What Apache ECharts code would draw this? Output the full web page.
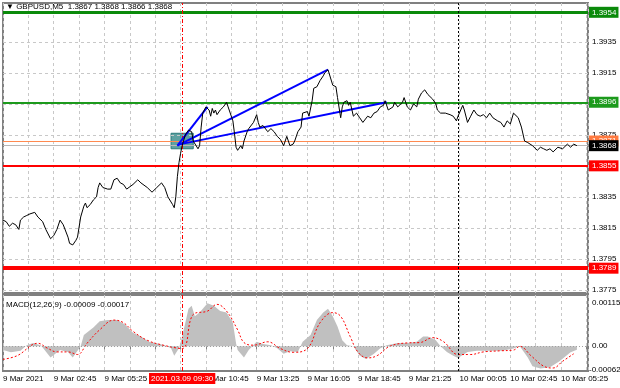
<!DOCTYPE html>
<html><head><meta charset="utf-8">
<script src="https://cdn.jsdelivr.net/npm/echarts@6/dist/echarts.min.js"></script>
<style>html,body{margin:0;padding:0;background:#fff}#c{width:620px;height:388px}</style>
</head><body><div id="c"></div>
<script>
// M5 bar index counted from 9 Mar 2021 00:05
const priceBars = [0,2,4,6,8,10,11,13,15,17,20,22,25,27,30,32,34,36,38,41,42,44,46,47,49,51,52,53,55,57,59,60,61,63,66,68,70,72,74,76,78,79,82,85,87,88,91,94,97,100,102,104,107,108,109,110,111,112,113,115,117,119,120,123,124,125,126,127,128,130,131,132,133,134,135,137,139,141,142,143,145,146,147,148,150,151,152,154,155,156,158,160,161,162,164,167,169,171,173,175,177,178,179,181,183,184,186,188,189,192,193,195,196,198,200,202,203,205,208,210,211,213,214,215,217,218,219,221,223,225,227,230,232,234,236,238,240,241,243,246,247,249,252,253,255,257,259,261,262,264,266,268,271,273,274,276,279,282,284,286,287,290,291,293,295,297,299,301,303,305,307,309,312,314,316,318,320,322,323,325,327,329,331,332,334,337,339,341,343,345,347,350,351,353,356,358,360,362];
const priceVals = [1.3820,1.3819,1.3816,1.3818,1.3817,1.3814,1.3820,1.3822,1.3823,1.3824,1.3825,1.3822,1.3819,1.3814,1.3808,1.3810,1.3814,1.3820,1.3817,1.3809,1.3805,1.3804,1.3807,1.3809,1.3822,1.3829,1.3831,1.3828,1.3830,1.3833,1.3835,1.3841,1.3844,1.3841,1.3840,1.3840,1.3846,1.3847,1.3844,1.3843,1.3840,1.3841,1.3843,1.3846,1.3844,1.3845,1.3841,1.3838,1.3841,1.3844,1.3841,1.3835,1.3830,1.3828,1.3835,1.3848,1.3857,1.3863,1.3868,1.3875,1.3878,1.3877,1.3871,1.3866,1.3868,1.3880,1.3889,1.3891,1.3893,1.3891,1.3887,1.3892,1.3889,1.3891,1.3888,1.3891,1.3893,1.3896,1.3893,1.3892,1.3884,1.3876,1.3867,1.3865,1.3868,1.3866,1.3871,1.3877,1.3879,1.3878,1.3883,1.3888,1.3883,1.3880,1.3881,1.3877,1.3879,1.3877,1.3874,1.3872,1.3868,1.3871,1.3874,1.3868,1.3869,1.3871,1.3877,1.3880,1.3889,1.3890,1.3887,1.3897,1.3905,1.3906,1.3910,1.3913,1.3915,1.3917,1.3907,1.3906,1.3899,1.3886,1.3893,1.3896,1.3897,1.3894,1.3896,1.3887,1.3889,1.3886,1.3883,1.3887,1.3886,1.3889,1.3890,1.3893,1.3894,1.3897,1.3891,1.3893,1.3896,1.3893,1.3896,1.3899,1.3893,1.3891,1.3895,1.3893,1.3898,1.3902,1.3904,1.3901,1.3898,1.3895,1.3891,1.3889,1.3889,1.3888,1.3887,1.3884,1.3887,1.3894,1.3891,1.3883,1.3887,1.3891,1.3888,1.3887,1.3888,1.3886,1.3889,1.3886,1.3884,1.3883,1.3880,1.3884,1.3882,1.3889,1.3890,1.3886,1.3880,1.3871,1.3870,1.3869,1.3868,1.3865,1.3867,1.3866,1.3865,1.3866,1.3864,1.3867,1.3868,1.3866,1.3869,1.3867,1.3869,1.3868];

const macdBars = [0,5,11,15,19,24,30,33,36,41,44,49,51,57,61,66,72,77,82,87,92,97,102,106,108,111,113,115,117,119,121,124,129,133,137,141,145,147,148,152,155,160,164,169,173,177,181,186,189,194,198,202,205,208,211,214,217,221,225,229,234,238,242,249,255,261,265,268,273,276,280,284,287,293,299,307,315,322,326,331,334,339,345,351,358,362];
const macdVals = [-0.00010,-0.00016,-0.00012,0.00003,0.00009,0.00002,-0.00030,-0.00020,-0.00010,-0.00015,-0.00030,0.00000,0.00030,0.00050,0.00067,0.00070,0.00070,0.00058,0.00036,0.00026,0.00012,0.00008,0.00003,-0.00005,-0.00025,-0.00005,0.00026,0.00063,0.00100,0.00108,0.00080,0.00090,0.00115,0.00108,0.00094,0.00090,0.00063,0.00008,-0.00010,-0.00030,-0.00010,0.00012,0.00006,0.00003,-0.00005,-0.00020,-0.00013,-0.00015,0.00012,0.00030,0.00070,0.00090,0.00100,0.00080,0.00053,0.00016,0.00003,0.00000,-0.00025,-0.00034,-0.00020,-0.00005,0.00003,0.00009,0.00009,0.00012,0.00026,0.00026,0.00016,0.00000,-0.00015,-0.00025,-0.00031,-0.00015,-0.00012,-0.00012,-0.00012,-0.00006,0.00000,-0.00030,-0.00053,-0.00059,-0.00056,-0.00040,-0.00016,-0.00009];
const signalBars = [0,9,22,28,34,41,47,53,61,70,76,82,91,101,113,120,129,135,141,148,152,158,167,175,183,192,200,208,213,219,224,230,236,244,255,263,271,278,287,295,303,314,322,326,333,341,347,353,360];
const signalVals = [-0.00035,-0.00025,0.00008,-0.00005,-0.00015,-0.00015,-0.00022,0.00008,0.00044,0.00070,0.00063,0.00040,0.00016,0.00003,-0.00006,0.00085,0.00094,0.00112,0.00094,0.00044,0.00010,0.00003,0.00012,-0.00006,-0.00016,-0.00006,0.00063,0.00090,0.00080,0.00026,-0.00016,-0.00031,-0.00025,0.00000,0.00009,0.00010,0.00023,0.00012,-0.00022,-0.00022,-0.00015,-0.00012,-0.00010,0.00000,-0.00025,-0.00053,-0.00058,-0.00040,-0.00020];

const priceTicks = [1.3775,1.3795,1.3815,1.3835,1.3855,1.3875,1.3895,1.3915,1.3935,1.3955];
const priceTickLabels = ['1.3775','1.3795','1.3815','1.3835','','1.3875','','1.3915','1.3935',''];
const levelVals = [1.3954,1.3896,1.3871,1.3868,1.3855,1.3789];
const levelLabels = ['1.3954','1.3896','1.3871','1.3868','1.3855','1.3789'];
const macdTicks = [0.00115, 0, -0.00062];
const macdTickLabels = ['0.00115', '0.00', '-0.00062'];
const trendLines = [[[110,1.3868],[129,1.3893]],[[110,1.3868],[205,1.3917]],[[112,1.3869],[242,1.3896]]];
const boxBars = [106,120];
const boxPrices = [1.3876,1.3866];
const markBar = 113;        // 2021.03.09 09:30
const dayBar = 287;         // 10 Mar 00:00
const headerText = 'GBPUSD,M5  1.3867 1.3868 1.3866 1.3868';
const macdText = 'MACD(12,26,9) -0.00009 -0.00017';

const FONT = 'Liberation Sans, Arial, sans-serif';
const zip = (a, b) => a.map((v, i) => [v, b[i]]);

function barLabel(b) {
  if (b === 0) return '9 Mar 2021';
  if (b % 32 !== 0 || b === 96) return '';
  const m = 5 + b * 5, day = 9 + Math.floor(m / 1440), mm = m % 1440;
  return day + ' Mar ' + String(Math.floor(mm / 60)).padStart(2, '0') + ':' + String(mm % 60).padStart(2, '0');
}
const levelStyles = [
  {c: '#0a8a0a', w: 3, bg: '#0a8a0a', fc: '#fff'},
  {c: '#1c9a1c', w: 2, bg: '#1c9a1c', fc: '#fff'},
  {c: '#ff8a50', w: 1, bg: '#ff7a40', fc: '#fff'},
  {c: '#b8b8b8', w: 1, bg: '#000', fc: '#fff'},
  {c: '#ff0000', w: 2, bg: '#ff0000', fc: '#fff'},
  {c: '#ff0000', w: 4, bg: '#ff0000', fc: '#fff'}
];

const chart = echarts.init(document.getElementById('c'), null, {renderer: 'canvas'});
const lbl = {fontFamily: FONT, fontSize: 8};
const option = {
  animation: false,
  backgroundColor: '#fff',
  title: [
    {text: '▼ ' + headerText, left: 6, top: 3, padding: 0, textStyle: {fontFamily: FONT, fontSize: 8, fontWeight: 'normal', color: '#000'}},
    {text: macdText, left: 6, top: 301, padding: 0, textStyle: {fontFamily: FONT, fontSize: 8, fontWeight: 'normal', color: '#000'}}
  ],
  grid: [
    {left: 3, top: 3, width: 585, height: 290, show: true, borderColor: '#808080', borderWidth: 2, backgroundColor: '#fff'},
    {left: 3, top: 295, width: 585, height: 76, show: true, borderColor: '#808080', borderWidth: 2, backgroundColor: '#fff'}
  ],
  xAxis: [
    {type: 'value', gridIndex: 0, min: 0, max: 369, interval: 16,
     axisLine: {show: false}, axisTick: {show: false}, axisLabel: {show: false},
     splitLine: {show: true, lineStyle: {color: '#c8c8c8', type: [3, 3]}}},
    {type: 'value', gridIndex: 1, min: 0, max: 369, interval: 16,
     axisLine: {show: false}, axisTick: {show: true, length: 3, lineStyle: {color: '#808080'}},
     axisLabel: Object.assign({show: true, color: '#000', align: 'left', margin: 4, showMaxLabel: false, formatter: barLabel}, lbl),
     splitLine: {show: true, lineStyle: {color: '#c8c8c8', type: [3, 3]}}}
  ],
  yAxis: [
    {type: 'value', gridIndex: 0, position: 'right', min: 1.3773, max: 1.3960,
     axisLine: {show: false}, axisTick: {show: false}, axisLabel: {show: false}, splitLine: {show: false}},
    {type: 'value', gridIndex: 1, position: 'right', min: -0.00066, max: 0.00137,
     axisLine: {show: false}, axisTick: {show: false}, splitLine: {show: false}, axisLabel: {show: false}}
  ],
  series: [
    {
      type: 'line', xAxisIndex: 0, yAxisIndex: 0, data: zip(priceBars, priceVals),
      showSymbol: false, lineStyle: {color: '#000', width: 1}, z: 5,
      markArea: {silent: true, itemStyle: {color: 'rgba(40,130,130,0.75)', borderColor: '#2a7a7a', borderWidth: 1},
        data: [[{coord: [boxBars[0], boxPrices[0]]}, {coord: [boxBars[1], boxPrices[1]]}]]},
      markLine: {silent: true, symbol: 'none', animation: false, precision: 6,
        data: [].concat(
          priceTicks.map((v, i) => ({yAxis: v, lineStyle: {color: '#c8c8c8', type: [3, 3], width: 1},
            label: Object.assign({show: true, position: 'end', distance: 4, color: '#000', formatter: priceTickLabels[i]}, lbl)})),
          levelVals.map((v, i) => ({yAxis: v, lineStyle: {color: levelStyles[i].c, type: 'solid', width: levelStyles[i].w},
            label: Object.assign({show: true, position: 'end', distance: 1, color: levelStyles[i].fc, backgroundColor: levelStyles[i].bg,
              padding: [2, 2, 1, 3], formatter: levelLabels[i]}, lbl)})),
          [{xAxis: markBar, lineStyle: {color: '#ff0000', type: [4, 2, 1, 2], width: 1}, label: {show: false}},
           {xAxis: dayBar, lineStyle: {color: '#000', type: [2, 2], width: 1}, label: {show: false}}],
          trendLines.map(p => [{coord: p[0], lineStyle: {color: '#0000ff', width: 2, type: 'solid'}, label: {show: false}}, {coord: p[1]}])
        )}
    },
    {
      type: 'line', xAxisIndex: 1, yAxisIndex: 1, data: zip(macdBars, macdVals),
      showSymbol: false, lineStyle: {width: 0, color: '#c0c0c0'}, areaStyle: {color: '#c0c0c0', opacity: 1}, z: 2,
      markLine: {silent: true, symbol: 'none', animation: false, precision: 6,
        data: [].concat(
          macdTicks.map((v, i) => ({yAxis: v,
            lineStyle: v === 0 ? {color: '#a0a0a0', type: [1, 2], width: 1} : {color: 'rgba(0,0,0,0)', width: 0},
            label: Object.assign({show: true, position: 'end', distance: v < 0 ? 1 : 4, color: '#000', formatter: macdTickLabels[i],
              padding: v < 0 ? [0, 0, 6, 0] : 0}, lbl)})),
          [{xAxis: markBar, lineStyle: {color: '#ff0000', type: [4, 2, 1, 2], width: 1},
            label: Object.assign({show: true, position: 'start', distance: 2, color: '#fff', backgroundColor: '#ff0000', padding: [2, 2, 1, 2], formatter: '2021.03.09 09:30'}, lbl)},
           {xAxis: dayBar, lineStyle: {color: '#000', type: [2, 2], width: 1}, label: {show: false}}]
        )}
    },
    {
      type: 'line', xAxisIndex: 1, yAxisIndex: 1, data: zip(signalBars, signalVals), smooth: 0.4,
      showSymbol: false, lineStyle: {color: '#ff0000', width: 1, type: [2, 2]}, z: 4
    }
  ]
};
chart.setOption(option);
</script></body></html>
